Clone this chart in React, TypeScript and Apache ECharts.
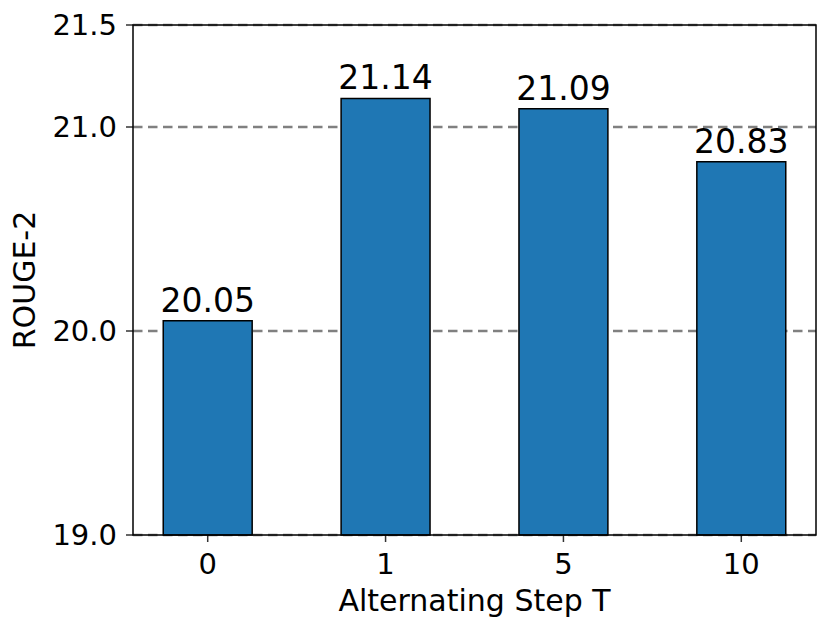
import React, { useEffect, useRef } from "react";
import * as echarts from "echarts";

const steps = ["0", "1", "5", "10"];
const rouge2 = [20.05, 21.14, 21.09, 20.83];
const yTicks = [19.0, 20.0, 21.0, 21.5];
const gridValues = [19.0, 20.0, 21.0, 21.5];

const FONT = "DejaVu Sans";
const X_MIN = -0.42;
const X_MAX = 3.42;
const Y_MIN = 19;
const Y_MAX = 21.5;
const BAR_HALF = 0.25;

export default function App() {
  const ref = useRef<HTMLDivElement>(null);
  useEffect(() => {
    if (!ref.current) return;
    const chart = echarts.init(ref.current, null, { renderer: "svg" });
    const positions = steps.map((_, i) => i);
    chart.setOption({
      animation: false,
      backgroundColor: "#ffffff",
      grid: {
        left: 125,
        top: 17,
        right: 6,
        bottom: 86,
        containLabel: false,
        outerBoundsMode: "none",
        show: true,
        borderColor: "#000",
        borderWidth: 1.5,
        backgroundColor: "transparent",
        z: 10,
      },
      xAxis: {
        type: "value",
        min: X_MIN,
        max: X_MAX,
        name: "Alternating Step T",
        nameLocation: "middle",
        nameGap: 50,
        nameTextStyle: { fontFamily: FONT, fontSize: 30, color: "#000" },
        axisLine: { show: false },
        splitLine: { show: false },
        axisTick: { show: false },
        axisLabel: {
          customValues: positions,
          margin: 14,
          fontFamily: FONT,
          fontSize: 29,
          color: "#000",
          formatter: (v: number) => steps[Math.round(v)] ?? "",
        },
      },
      yAxis: {
        type: "value",
        min: Y_MIN,
        max: Y_MAX,
        name: "ROUGE-2",
        nameLocation: "middle",
        nameRotate: 90,
        nameGap: 94,
        nameTextStyle: { fontFamily: FONT, fontSize: 30, color: "#000" },
        axisLine: { show: false },
        splitLine: { show: false },
        axisTick: { show: false },
        axisLabel: {
          customValues: yTicks,
          margin: 16,
          fontFamily: FONT,
          fontSize: 29,
          color: "#000",
          formatter: (v: number) => v.toFixed(1),
        },
      },
      series: [
        {
          // dashed horizontal grid lines
          type: "custom",
          silent: true,
          z: 1,
          clip: false,
          data: gridValues.map((g) => [X_MIN, g]),
          renderItem: (_params: any, api: any) => {
            const g = api.value(1);
            const a = api.coord([X_MIN, g]);
            const b = api.coord([X_MAX, g]);
            return {
              type: "line",
              shape: { x1: a[0], y1: a[1], x2: b[0], y2: b[1] },
              style: {
                stroke: "#808080",
                lineWidth: 2.5,
                lineDash: [9.5, 5.5],
              },
            };
          },
        },
        {
          // bars with value labels
          type: "custom",
          z: 3,
          clip: false,
          data: rouge2.map((v, i) => [positions[i], v]),
          renderItem: (_params: any, api: any) => {
            const x = api.value(0);
            const v = api.value(1);
            const p0 = api.coord([x - BAR_HALF, v]);
            const p1 = api.coord([x + BAR_HALF, Y_MIN]);
            return {
              type: "group",
              children: [
                {
                  type: "rect",
                  shape: {
                    x: p0[0],
                    y: p0[1],
                    width: p1[0] - p0[0],
                    height: p1[1] - p0[1],
                  },
                  style: { fill: "#1f77b4", stroke: "#000", lineWidth: 1.5 },
                },
                {
                  type: "text",
                  style: {
                    text: Number(v).toFixed(2),
                    x: (p0[0] + p1[0]) / 2,
                    y: p0[1] - 4,
                    align: "center",
                    verticalAlign: "bottom",
                    fontFamily: FONT,
                    fontSize: 33,
                    fill: "#000",
                  },
                },
              ],
            };
          },
        },
        {
          // y-axis tick marks
          type: "scatter",
          silent: true,
          clip: false,
          symbol: "rect",
          symbolSize: [7, 1.5],
          symbolOffset: [-3.5, 0],
          itemStyle: { color: "#000" },
          data: yTicks.map((t) => [X_MIN, t]),
          z: 11,
        },
        {
          // x-axis tick marks
          type: "scatter",
          silent: true,
          clip: false,
          symbol: "rect",
          symbolSize: [1.5, 7],
          symbolOffset: [0, 3.5],
          itemStyle: { color: "#000" },
          data: positions.map((p) => [p, Y_MIN]),
          z: 11,
        },
      ],
    });
    return () => chart.dispose();
  }, []);
  return <div ref={ref} style={{ width: 814, height: 613 }} />;
}
